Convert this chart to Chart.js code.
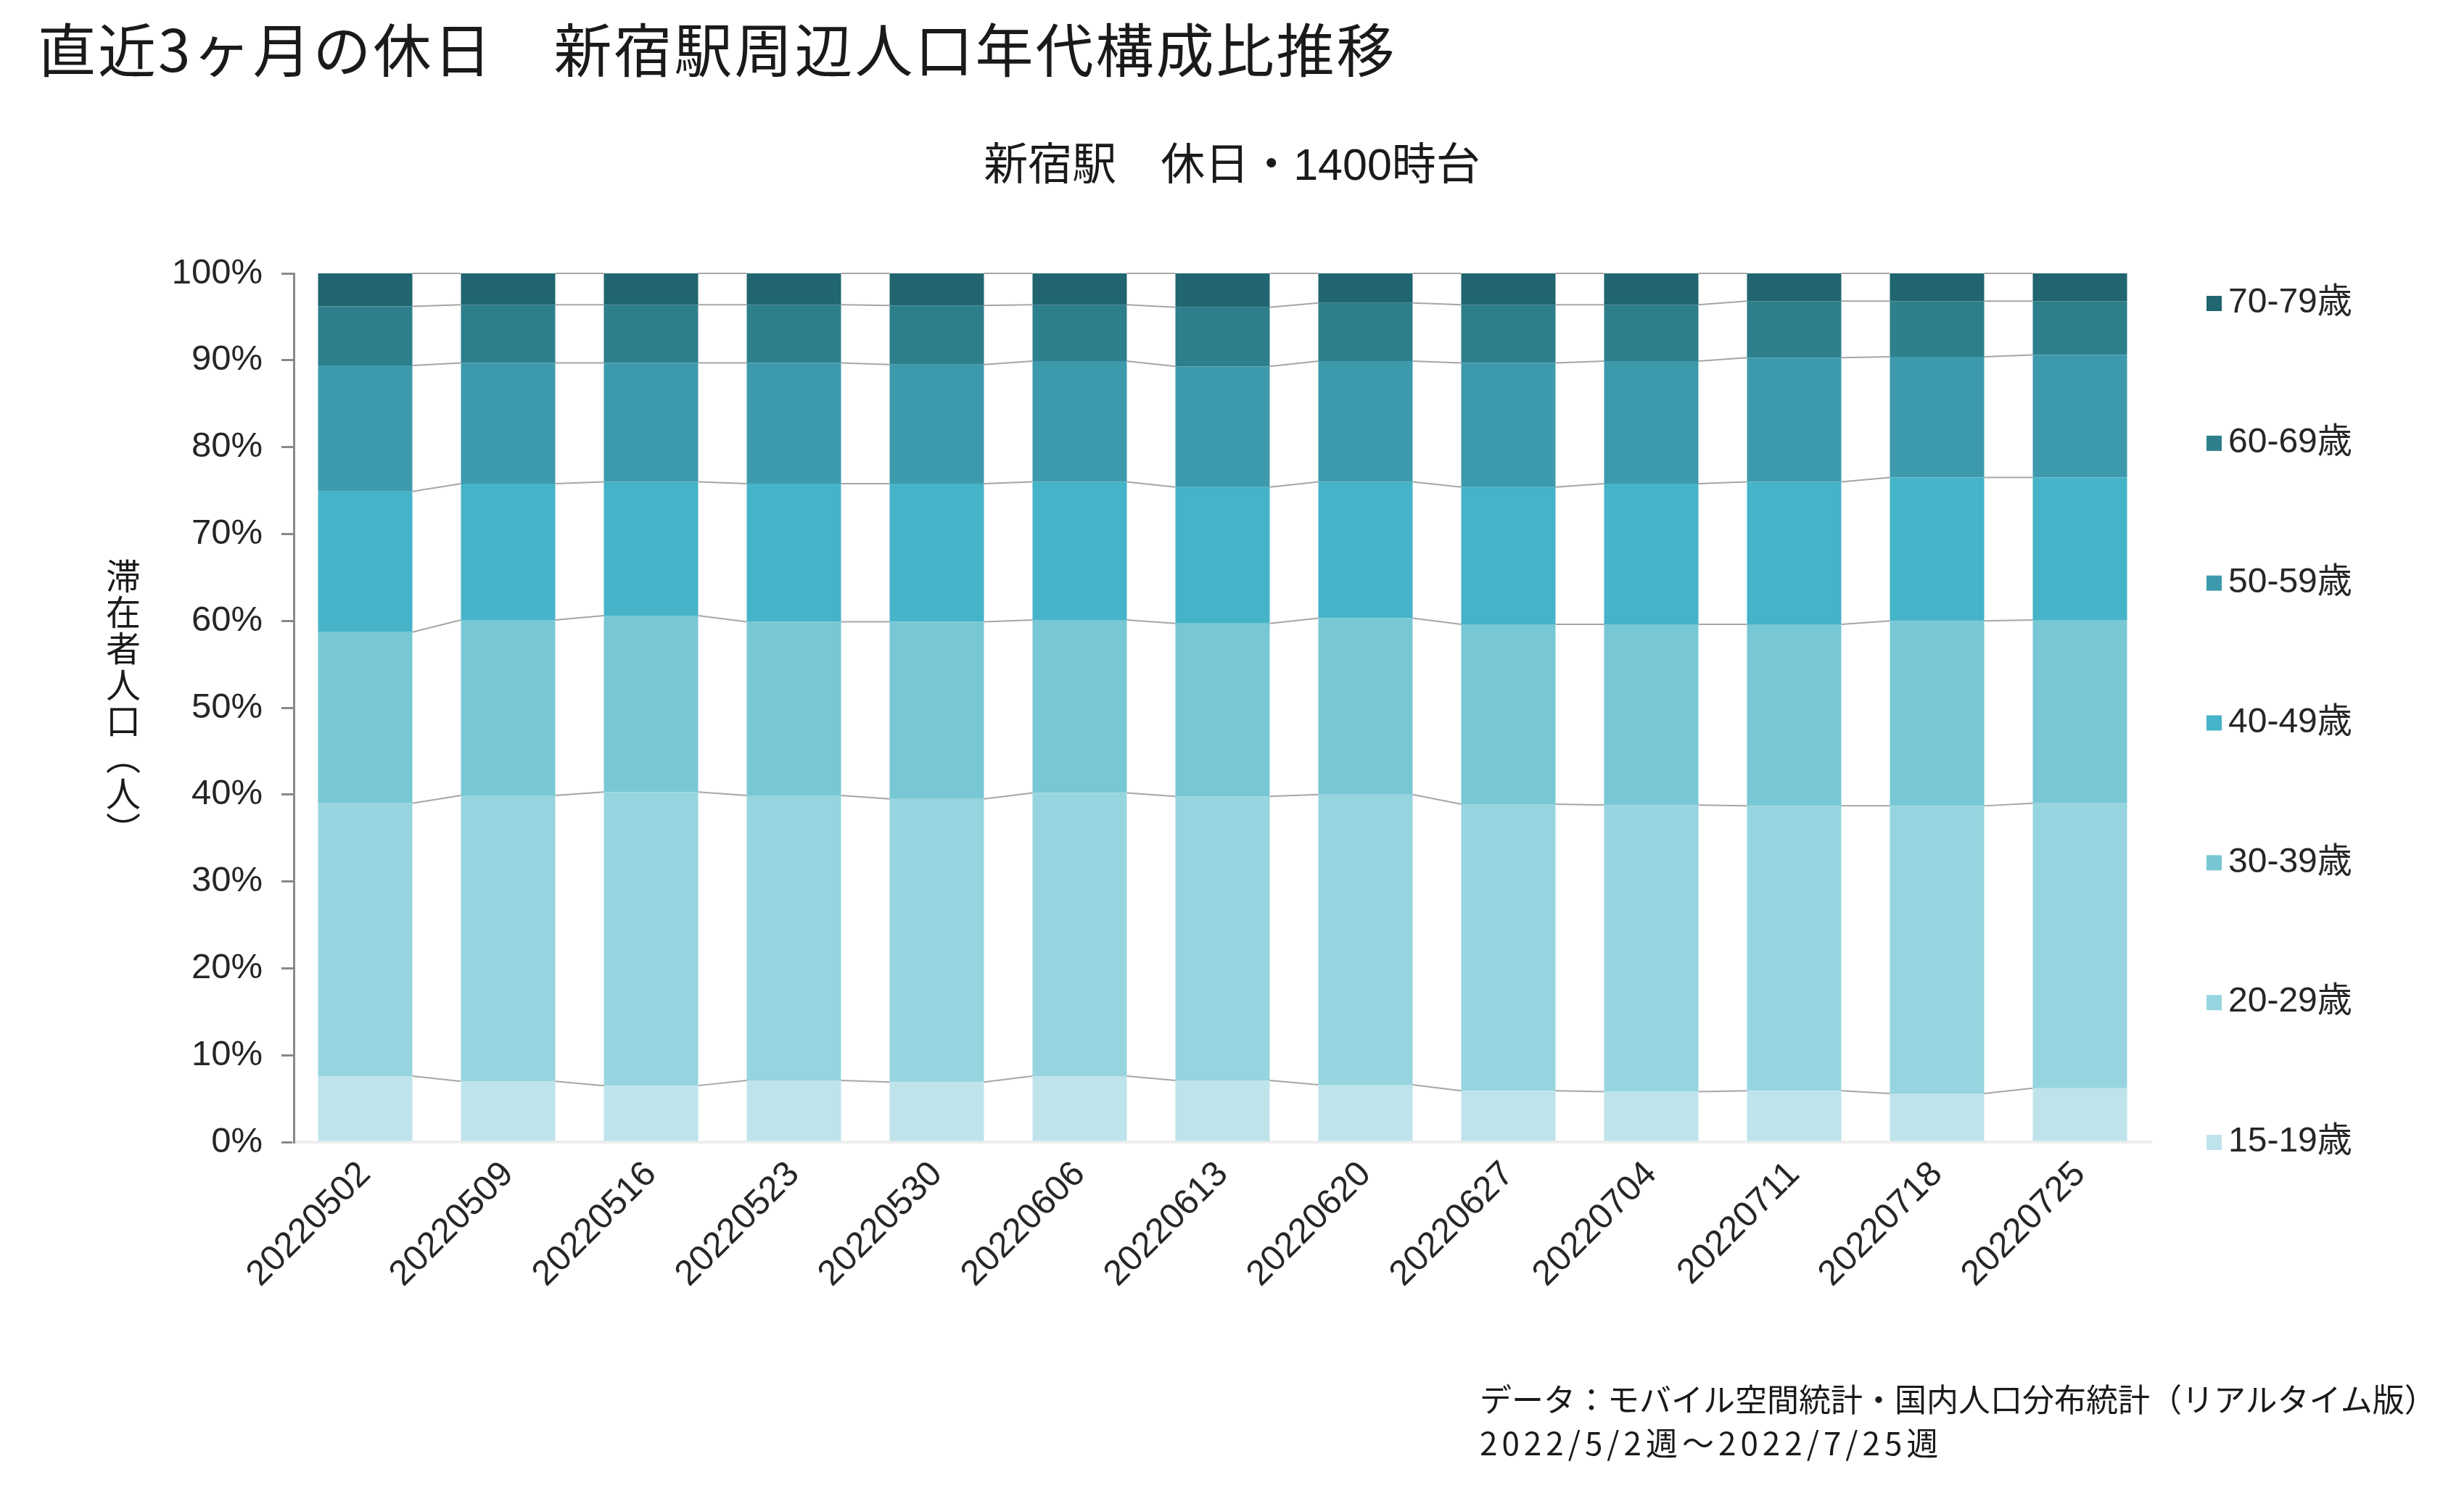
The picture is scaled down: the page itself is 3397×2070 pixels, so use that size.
<!DOCTYPE html>
<html lang="ja">
<head>
<meta charset="utf-8">
<title>新宿駅周辺人口年代構成比推移</title>
<script src="https://cdn.jsdelivr.net/npm/chart.js@4.4.1/dist/chart.umd.min.js"></script>
<style>
  html, body { margin: 0; padding: 0; background: #fff; }
  #wrap { position: relative; width: 3397px; height: 2070px; }
  .txt { position: absolute; color: #1a1a1a; font-family: "Noto Sans CJK JP", sans-serif; white-space: nowrap; }
  #title { left: 52px; top: 20px; font-size: 80px; line-height: 1.1; letter-spacing: 3px; }
  #subtitle { left: 0; width: 3397px; text-align: center; top: 191px; font-size: 61px; line-height: 1.2;
    font-family: "Liberation Sans", "Noto Sans CJK JP", sans-serif; }
  #ytitle { left: 146px; top: 770px; font-size: 48px; line-height: 1; letter-spacing: 2px; writing-mode: vertical-rl; }
  #footer { left: 2040px; top: 1898px; font-size: 44px; line-height: 60px; }
  #footer span { letter-spacing: 6px; }
</style>
</head>
<body>
<div id="wrap">
  <canvas id="chart"></canvas>
  <div class="txt" id="title">直近3ヶ月の休日　新宿駅周辺人口年代構成比推移</div>
  <div class="txt" id="subtitle">新宿駅　休日・1400時台</div>
  <div class="txt" id="ytitle">滞在者人口（人）</div>
  <div class="txt" id="footer">データ：モバイル空間統計・国内人口分布統計（リアルタイム版）<br><span>2022/5/2週～2022/7/25週</span></div>
</div>
<script>
const weeks = ["20220502", "20220509", "20220516", "20220523", "20220530", "20220606", "20220613",
  "20220620", "20220627", "20220704", "20220711", "20220718", "20220725"];
const ageGroups = ["15-19歳", "20-29歳", "30-39歳", "40-49歳", "50-59歳", "60-69歳", "70-79歳"];
const ageColors = ["#bee3eb", "#96d5df", "#78c7d5", "#45b3c8", "#3d9aac", "#2d7f8b", "#20656f"];

// 構成比 (%)
const share15 = [7.6, 7.0, 6.5, 7.1, 6.9, 7.6, 7.1, 6.6, 5.9, 5.8, 5.9, 5.6, 6.2];
const share20 = [31.4, 32.9, 33.8, 32.8, 32.6, 32.6, 32.7, 33.4, 33.0, 33.0, 32.8, 33.1, 32.8];
const share30 = [19.7, 20.2, 20.3, 20.0, 20.4, 19.9, 19.9, 20.3, 20.7, 20.8, 20.9, 21.3, 21.1];
const share40 = [16.2, 15.7, 15.4, 15.9, 15.9, 15.9, 15.7, 15.7, 15.8, 16.2, 16.4, 16.5, 16.4];
const share50 = [14.5, 13.9, 13.7, 13.9, 13.7, 13.9, 13.9, 13.9, 14.3, 14.1, 14.3, 13.9, 14.1];
const share60 = [6.8, 6.7, 6.7, 6.7, 6.8, 6.5, 6.8, 6.7, 6.7, 6.5, 6.5, 6.4, 6.2];
const share70 = [3.8, 3.6, 3.6, 3.6, 3.7, 3.6, 3.9, 3.4, 3.6, 3.6, 3.2, 3.2, 3.2];

const yTicks = [0, 10, 20, 30, 40, 50, 60, 70, 80, 90, 100];

const shares = [share15, share20, share30, share40, share50, share60, share70];
const tickFont = { family: "'Liberation Sans', Arial, 'Noto Sans CJK JP', sans-serif", size: 49 };

// 系列線 (棒の間を結ぶ線)
const seriesLines = {
  id: "seriesLines",
  afterDatasetsDraw(chart) {
    const ctx = chart.ctx;
    ctx.save();
    ctx.strokeStyle = "#a6a6a6";
    ctx.lineWidth = 2;
    chart.data.datasets.forEach((ds, d) => {
      const bars = chart.getDatasetMeta(d).data;
      for (let i = 0; i < bars.length - 1; i++) {
        const a = bars[i], b = bars[i + 1];
        ctx.beginPath();
        ctx.moveTo(a.x + a.width / 2, a.y);
        ctx.lineTo(b.x - b.width / 2, b.y);
        ctx.stroke();
      }
    });
    ctx.restore();
  }
};

// 凡例 (右側に縦並び、上が高年齢)
const sideLegend = {
  id: "sideLegend",
  afterDraw(chart) {
    const { ctx, chartArea } = chart;
    const n = chart.data.datasets.length;
    const first = chartArea.top + 41;
    const step = (chartArea.bottom - first) / (n - 1);
    const x = chartArea.right + 76;
    ctx.save();
    ctx.font = "48px 'Liberation Sans', Arial, 'Noto Sans CJK JP', sans-serif";
    ctx.textBaseline = "middle";
    for (let k = 0; k < n; k++) {
      const ds = chart.data.datasets[n - 1 - k];
      const y = first + step * k;
      ctx.fillStyle = ds.backgroundColor;
      ctx.fillRect(x, y - 10, 21, 21);
      ctx.fillStyle = "#262626";
      ctx.fillText(ds.label, x + 30, y);
    }
    ctx.restore();
  }
};

new Chart(document.getElementById("chart"), {
  type: "bar",
  data: {
    labels: weeks,
    datasets: ageGroups.map((g, i) => ({
      label: g,
      data: shares[i],
      backgroundColor: ageColors[i],
      borderWidth: 0,
      barPercentage: 0.66,
      categoryPercentage: 1
    }))
  },
  options: {
    responsive: true,
    maintainAspectRatio: false,
    animation: false,
    layout: { padding: { left: 0, top: 377, right: 431, bottom: 195 } },
    plugins: { legend: { display: false }, tooltip: { enabled: false } },
    scales: {
      x: {
        stacked: true,
        grid: { display: false, drawTicks: false },
        border: { color: "#eeeeee", width: 4 },
        ticks: { color: "#262626", font: tickFont, maxRotation: 45, minRotation: 45, autoSkip: false, padding: 16 },
        afterFit: (s) => { s.height = 300; }
      },
      y: {
        stacked: true,
        min: 0,
        max: 100,
        afterBuildTicks: (s) => { s.ticks = yTicks.map(v => ({ value: v })); },
        ticks: { color: "#262626", font: tickFont, padding: 26, callback: (v) => v + "%" },
        grid: { drawOnChartArea: false, color: "#898989", lineWidth: 3, tickLength: 17 },
        border: { color: "#898989", width: 3 },
        afterFit: (s) => { s.width = 405; }
      }
    }
  },
  plugins: [seriesLines, sideLegend]
});
</script>
</body>
</html>
